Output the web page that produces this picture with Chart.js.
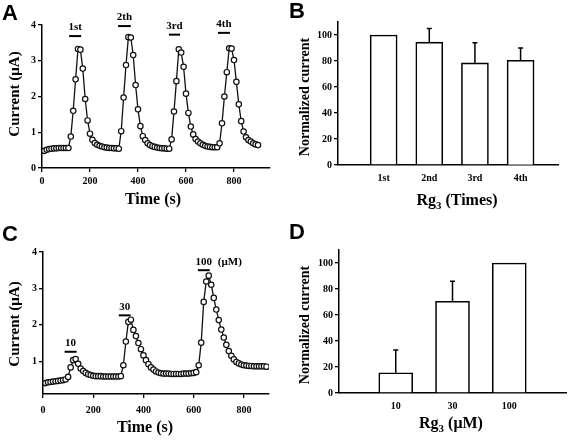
<!DOCTYPE html>
<html>
<head>
<meta charset="utf-8">
<script src="https://cdn.jsdelivr.net/npm/chart.js@4.4.1/dist/chart.umd.min.js"></script>
<style>
  html, body { margin: 0; padding: 0; background: #fff; }
  #fig { position: relative; width: 574px; height: 442px; overflow: hidden; }
  #fig canvas { position: absolute; }
  .tag { position: absolute; font: bold 22px "Liberation Sans", Arial, sans-serif; color: #000; line-height: 22px; }
</style>
</head>
<body>
<div id="fig">
  <canvas id="chartA" width="287" height="221" style="left:0px;top:0px"></canvas>
  <canvas id="chartB" width="287" height="221" style="left:287px;top:0px"></canvas>
  <canvas id="chartC" width="287" height="221" style="left:0px;top:221px"></canvas>
  <canvas id="chartD" width="287" height="221" style="left:287px;top:221px"></canvas>
  <div class="tag" style="left:2px;top:2px">A</div>
  <div class="tag" style="left:289px;top:0px">B</div>
  <div class="tag" style="left:2px;top:223px">C</div>
  <div class="tag" style="left:289px;top:221px">D</div>
</div>
<script>
// sampling interval of the current traces (s)
const timeStep = 10;
const timeTicks = [0, 200, 400, 600, 800];

// A: four repeated applications, current in uA
const currentA = [
    0.48, 0.51, 0.53, 0.54, 0.55, 0.55, 0.56, 0.56, 0.56, 0.56, 0.56,
    0.88, 1.60, 2.48, 3.33, 3.31, 2.78, 1.93, 1.33, 0.96, 0.79, 0.70,
    0.65, 0.62, 0.60, 0.58, 0.57, 0.56, 0.56, 0.55, 0.55, 0.54,
    1.03, 1.97, 2.88, 3.66, 3.65, 3.16, 2.32, 1.64, 1.17, 0.89, 0.78,
    0.69, 0.64, 0.61, 0.59, 0.57, 0.56, 0.55, 0.55, 0.54, 0.54,
    0.80, 1.58, 2.43, 3.32, 3.23, 2.83, 2.08, 1.54, 1.16, 0.94, 0.81,
    0.74, 0.69, 0.65, 0.62, 0.60, 0.59, 0.58, 0.58, 0.58,
    0.69, 1.25, 2.00, 2.68, 3.35, 3.34, 3.02, 2.41, 1.78, 1.31, 1.02,
    0.86, 0.78, 0.74, 0.69, 0.66, 0.64
];
const currentTicksA = [0, 1, 2, 3, 4];
const marksA = ["1st", "2th", "3rd", "4th"];
const markStartA = [113, 317, 529, 733];
const markEndA = [163, 370, 575, 783];
const markLevelA = [3.69, 3.97, 3.73, 3.78];

// C: 10, 30 and 100 uM
const currentC = [
    0.40, 0.42, 0.43, 0.44, 0.45, 0.46, 0.47, 0.48, 0.50,
    0.57, 0.83, 1.03, 1.06, 0.93, 0.80, 0.73, 0.68, 0.64, 0.62, 0.60,
    0.59, 0.59, 0.59, 0.58, 0.58, 0.58, 0.58, 0.58, 0.58, 0.58, 0.59,
    0.89, 1.54, 2.08, 2.14, 1.86, 1.69, 1.50, 1.33, 1.16, 1.03, 0.92,
    0.83, 0.77, 0.72, 0.69, 0.67,
    0.66, 0.66, 0.66, 0.65, 0.65, 0.65, 0.65, 0.65, 0.66, 0.66, 0.66, 0.67, 0.68,
    0.70, 0.89, 1.51, 2.63, 3.19, 3.35, 3.10, 2.74, 2.42, 2.13, 1.87,
    1.65, 1.45, 1.28, 1.15, 1.05, 0.98, 0.94, 0.91, 0.89, 0.88, 0.87,
    0.87, 0.86, 0.86, 0.86, 0.86, 0.86, 0.85
];
const currentTicksC = [1, 2, 3, 4];
const marksC = ["10", "30", "100"];
const markStartC = [86, 302, 617];
const markEndC = [134, 349, 664];
const markLevelC = [1.26, 2.26, 3.5];

// B and D: normalized current (%)
const normTicks = [0, 20, 40, 60, 80, 100];
const timesLabels = ["1st", "2nd", "3rd", "4th"];
const timesValues = [100, 94.5, 78.5, 80.5];
const timesErrors = [0, 10.5, 15.5, 9.5];
const doseLabels = ["10", "30", "100"];
const doseValues = [15.5, 70.5, 100];
const doseErrors = [17.5, 15.5, 0];

const serifFamily = '"Liberation Serif", "Times New Roman", serif';

function serif(size) {
    return "bold " + size + "px " + serifFamily;
}

function tracePoints(values) {
    return values.map(function (v, i) {
        return { x: (i + 1) * timeStep, y: v };
    });
}

function drawRotated(ctx, text, x, y, size) {
    ctx.save();
    ctx.translate(x, y);
    ctx.rotate(-Math.PI / 2);
    ctx.font = serif(size);
    ctx.textAlign = "center";
    ctx.textBaseline = "middle";
    ctx.fillText(text, 0, 0);
    ctx.restore();
}

function drawCentered(ctx, text, x, y, size) {
    ctx.font = serif(size);
    ctx.textAlign = "center";
    ctx.textBaseline = "middle";
    ctx.fillText(text, x, y);
}

// "Rg" with a subscript 3, then the unit
function drawRgTitle(ctx, unit, cx, cy) {
    ctx.textBaseline = "alphabetic";
    ctx.textAlign = "left";
    ctx.font = serif(16);
    const w1 = ctx.measureText("Rg").width;
    const w3 = ctx.measureText(" " + unit).width;
    ctx.font = serif(11);
    const w2 = ctx.measureText("3").width;
    let x = cx - (w1 + w2 + w3) / 2;
    const base = cy + 5;
    ctx.font = serif(16);
    ctx.fillText("Rg", x, base);
    x += w1;
    ctx.font = serif(11);
    ctx.fillText("3", x, base + 4);
    x += w2;
    ctx.font = serif(16);
    ctx.fillText(" " + unit, x, base);
}

function drawMarks(chart, ctx, labels, starts, ends, levels) {
    const xs = chart.scales.x;
    const ys = chart.scales.y;
    ctx.strokeStyle = "#000";
    ctx.fillStyle = "#000";
    ctx.lineWidth = 2;
    ctx.font = serif(11);
    ctx.textAlign = "center";
    ctx.textBaseline = "bottom";
    for (let i = 0; i < labels.length; i++) {
        const x0 = xs.getPixelForValue(starts[i]);
        const x1 = xs.getPixelForValue(ends[i]);
        const y = ys.getPixelForValue(levels[i]);
        ctx.beginPath();
        ctx.moveTo(x0, y);
        ctx.lineTo(x1, y);
        ctx.stroke();
        ctx.fillText(labels[i], (x0 + x1) / 2, y - 3);
    }
}

function labelPlugin(draw) {
    return {
        id: "panelLabels",
        afterDraw: function (chart) {
            const ctx = chart.ctx;
            ctx.save();
            ctx.fillStyle = "#000";
            draw(chart, ctx);
            ctx.restore();
        }
    };
}

function errorBarPlugin(values, errors, cap) {
    return {
        id: "errorBars",
        afterDatasetsDraw: function (chart) {
            const ctx = chart.ctx;
            const ys = chart.scales.y;
            const meta = chart.getDatasetMeta(0);
            ctx.save();
            ctx.strokeStyle = "#000";
            ctx.lineWidth = 1.5;
            for (let i = 0; i < errors.length; i++) {
                if (!errors[i]) continue;
                const x = meta.data[i].x;
                const y0 = ys.getPixelForValue(values[i]);
                const y1 = ys.getPixelForValue(values[i] + errors[i]);
                ctx.beginPath();
                ctx.moveTo(x, y0);
                ctx.lineTo(x, y1);
                ctx.moveTo(x - cap, y1);
                ctx.lineTo(x + cap, y1);
                ctx.stroke();
            }
            ctx.restore();
        }
    };
}

function axisGrid(showTicks) {
    return {
        display: showTicks,
        drawOnChartArea: false,
        drawTicks: showTicks,
        tickLength: 4,
        color: "#000",
        lineWidth: 1.3
    };
}

function fixedTicks(list) {
    return function (scale) {
        scale.ticks = list.map(function (v) { return { value: v }; });
    };
}

function lineChart(id, values, xMax, yMin, yTicks, box, draw) {
    return new Chart(document.getElementById(id), {
        type: "line",
        data: {
            datasets: [{
                data: tracePoints(values),
                borderColor: "#111",
                borderWidth: 1.3,
                pointRadius: 2.7,
                pointBorderWidth: 1.2,
                pointBackgroundColor: "#fff",
                pointBorderColor: "#111",
                tension: 0
            }]
        },
        options: {
            responsive: false,
            animation: false,
            devicePixelRatio: 1,
            events: [],
            layout: { padding: { left: 0, top: box.top, right: box.right, bottom: box.bottom } },
            scales: {
                x: {
                    type: "linear",
                    min: 0,
                    max: xMax,
                    afterBuildTicks: fixedTicks(timeTicks),
                    afterFit: function (s) { s.height = 22; },
                    grid: axisGrid(true),
                    border: { display: true, color: "#000", width: 1.5 },
                    ticks: { color: "#000", font: { family: serifFamily, size: 10, weight: "bold" }, padding: box.xPad, maxRotation: 0 }
                },
                y: {
                    min: yMin,
                    max: 4,
                    afterBuildTicks: fixedTicks(yTicks),
                    afterFit: function (s) { s.width = box.left; },
                    grid: axisGrid(true),
                    border: { display: true, color: "#000", width: 1.5 },
                    ticks: { color: "#000", font: { family: serifFamily, size: 10, weight: "bold" }, padding: 2 }
                }
            },
            plugins: { legend: { display: false }, tooltip: { enabled: false } }
        },
        plugins: [labelPlugin(draw)]
    });
}

function barChart(id, labels, values, errors, xMax, barWidth, box, draw) {
    return new Chart(document.getElementById(id), {
        type: "bar",
        data: {
            datasets: [{
                data: values.map(function (v, i) { return { x: i + 1, y: v }; }),
                backgroundColor: "#fff",
                borderColor: "#000",
                borderWidth: 1.6,
                borderSkipped: "start",
                barThickness: barWidth
            }]
        },
        options: {
            responsive: false,
            animation: false,
            devicePixelRatio: 1,
            events: [],
            layout: { padding: { left: 0, top: box.top, right: box.right, bottom: box.bottom } },
            scales: {
                x: {
                    type: "linear",
                    min: 0,
                    max: xMax,
                    offset: false,
                    afterBuildTicks: fixedTicks(labels.map(function (c, i) { return i + 1; })),
                    afterFit: function (s) { s.height = 22; },
                    grid: { display: false, drawTicks: false, offset: false },
                    border: { display: true, color: "#000", width: 1.5 },
                    ticks: {
                        color: "#000",
                        font: { family: serifFamily, size: 10, weight: "bold" },
                        padding: 7,
                        maxRotation: 0,
                        callback: function (value) { return labels[value - 1]; }
                    }
                },
                y: {
                    min: 0,
                    max: 110,
                    afterBuildTicks: fixedTicks(normTicks),
                    afterFit: function (s) { s.width = box.left; },
                    grid: axisGrid(true),
                    border: { display: true, color: "#000", width: 1.5 },
                    ticks: { color: "#000", font: { family: serifFamily, size: 10, weight: "bold" }, padding: 2 }
                }
            },
            plugins: { legend: { display: false }, tooltip: { enabled: false } }
        },
        plugins: [errorBarPlugin(values, errors, 2.5), labelPlugin(draw)]
    });
}

lineChart("chartA", currentA, 950, 0, currentTicksA,
    { left: 42, top: 25, right: 17, bottom: 31, xPad: 3 },
    function (chart, ctx) {
        drawMarks(chart, ctx, marksA, markStartA, markEndA, markLevelA);
        drawRotated(ctx, "Current (\u03bcA)", 15, 94, 15);
        drawCentered(ctx, "Time (s)", 153, 200, 16);
    });

lineChart("chartC", currentC, 900, 0.1, currentTicksC,
    { left: 43, top: 31, right: 18, bottom: 26, xPad: 6 },
    function (chart, ctx) {
        drawMarks(chart, ctx, marksC, markStartC, markEndC, markLevelC);
        // unit written next to the last concentration
        const ys = chart.scales.y;
        const xs = chart.scales.x;
        ctx.font = serif(11);
        ctx.textAlign = "center";
        ctx.textBaseline = "bottom";
        ctx.fillText("(\u03bcM)", xs.getPixelForValue(744), ys.getPixelForValue(markLevelC[2]) - 3);
        drawRotated(ctx, "Current (\u03bcA)", 15, 103, 15);
        drawCentered(ctx, "Time (s)", 145, 207, 16);
    });

barChart("chartB", timesLabels, timesValues, timesErrors, 4.82, 27,
    { left: 51, top: 22, right: 16, bottom: 34 },
    function (chart, ctx) {
        drawRotated(ctx, "Normalized current", 18, 97, 14);
        drawRgTitle(ctx, "(Times)", 170, 200);
    });

barChart("chartD", doseLabels, doseValues, doseErrors, 4, 34,
    { left: 52, top: 29, right: 8, bottom: 27 },
    function (chart, ctx) {
        drawRotated(ctx, "Normalized current", 18, 104, 14);
        drawRgTitle(ctx, "(\u03bcM)", 164, 202);
    });
</script>
</body>
</html>
